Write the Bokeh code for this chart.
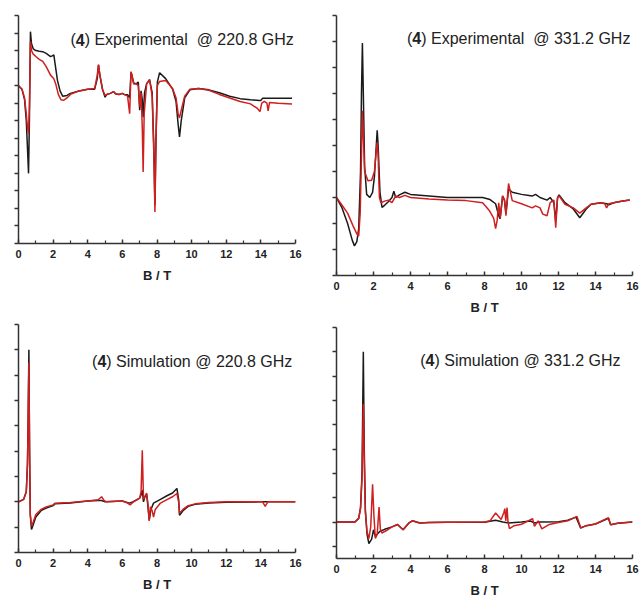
from bokeh.plotting import figure
from bokeh.layouts import row, column
from bokeh.models import Range1d, FixedTicker, Label
from bokeh.embed import file_html
from bokeh.resources import INLINE

# ---------------- data ----------------
# Panel 1: (4) Experimental @ 220.8 GHz
exp220_black_x = [0, 0.2, 0.35, 0.45, 0.52, 0.58, 0.63, 0.69, 0.75, 0.85, 1.0, 1.2, 1.4, 1.6, 1.85, 1.95, 2.04, 2.12,
                  2.25, 2.4, 2.55, 2.8, 3.0, 3.5, 4.0, 4.4, 4.55, 4.62, 4.7, 4.85, 5.0, 5.1, 5.3, 5.5, 5.6, 5.8, 6.0,
                  6.1, 6.3, 6.42, 6.5, 6.55, 6.65, 6.8, 6.92, 7.0, 7.08, 7.15, 7.2, 7.28, 7.4, 7.57, 7.72, 7.82, 7.88,
                  7.94, 8.02, 8.15, 8.5, 8.9, 9.1, 9.22, 9.3, 9.4, 9.6, 9.9, 10.4, 11.0, 11.6, 12.2, 12.8, 13.4, 13.9,
                  14.0, 14.1, 14.3, 15.0, 15.8]
exp220_black_y = [0, -0.1, -0.4, -1.0, -1.8, -2.5, -1.0, 1.54, 1.2, 1.05, 1.0, 0.98, 0.97, 0.92, 0.83, 0.85, 0.88, 0.6,
                  0.15, -0.15, -0.3, -0.28, -0.22, -0.15, -0.1, -0.1, 0.2, 0.59, 0.3, -0.1, -0.33, -0.25, -0.22, -0.17,
                  -0.23, -0.25, -0.22, -0.25, -0.26, -0.35, 0.38, 0.3, 0.08, 0.05, 0.1, -0.7, -0.15, -0.4, -0.9, -0.2,
                  0.05, 0.17, -0.2, -1.8, -3.4, -1.5, 0.1, 0.37, 0.2, -0.1, -0.45, -1.1, -1.46, -1.0, -0.35, -0.12,
                  -0.08, -0.12, -0.2, -0.3, -0.37, -0.4, -0.42, -0.42, -0.36, -0.36, -0.36, -0.36]
exp220_red_x = [0, 0.2, 0.35, 0.45, 0.52, 0.58, 0.63, 0.69, 0.75, 0.85, 1.0, 1.2, 1.4, 1.6, 1.85, 2.04, 2.15, 2.3, 2.45,
                2.6, 2.8, 3.0, 3.5, 4.0, 4.4, 4.55, 4.62, 4.7, 4.85, 5.0, 5.1, 5.3, 5.5, 5.6, 5.8, 6.0, 6.1, 6.3, 6.42,
                6.5, 6.55, 6.65, 6.8, 6.92, 7.0, 7.08, 7.15, 7.2, 7.26, 7.4, 7.57, 7.72, 7.82, 7.88, 7.94, 8.02, 8.15,
                8.5, 8.9, 9.1, 9.22, 9.3, 9.4, 9.6, 9.9, 10.4, 11.0, 11.6, 12.2, 12.8, 13.4, 13.8, 13.95, 14.05, 14.2,
                14.35, 14.42, 14.5, 15.0, 15.8]
exp220_red_y = [0, -0.1, -0.35, -0.8, -1.2, -1.36, -0.6, 1.26, 1.0, 0.9, 0.83, 0.75, 0.69, 0.54, 0.3, 0.2, 0.05, -0.25,
                -0.4, -0.42, -0.35, -0.25, -0.15, -0.1, -0.08, 0.3, 0.6, 0.3, -0.1, -0.28, -0.25, -0.22, -0.17, -0.23,
                -0.25, -0.22, -0.25, -0.3, -0.8, 0.4, 0.3, 0.05, 0.05, 0.0, -0.6, -0.2, -1.2, -2.46, -0.8, 0.05, 0.17,
                -0.3, -2.0, -3.6, -1.6, 0.0, 0.12, 0.15, -0.08, -0.35, -0.8, -0.92, -0.7, -0.3, -0.1, -0.08, -0.13,
                -0.25, -0.35, -0.45, -0.52, -0.65, -0.74, -0.5, -0.45, -0.5, -0.72, -0.48, -0.5, -0.52]

# Panel 2: (4) Experimental @ 331.2 GHz
exp331_black_x = [0, 0.3, 0.6, 0.85, 0.97, 1.1, 1.2, 1.3, 1.35, 1.4, 1.45, 1.52, 1.63, 1.8, 1.95, 2.05, 2.15, 2.2, 2.25,
                  2.35, 2.46, 2.6, 2.8, 3.0, 3.1, 3.2, 3.4, 3.7, 4.0, 5.0, 6.0, 7.0, 7.9, 8.3, 8.6, 8.77, 8.84, 8.98,
                  9.08, 9.16, 9.3, 9.5, 10.0, 10.4, 10.6, 10.76, 11.0, 11.38, 11.55, 11.75, 11.85, 11.95, 12.03, 12.35,
                  12.8, 13.15, 13.5, 13.76, 14.3, 14.6, 14.72, 14.98, 15.4, 15.85]
exp331_black_y = [0, -0.2, -0.5, -0.82, -0.93, -0.85, -0.6, 0.5, 2.0, 2.97, 2.0, 0.6, 0.06, 0.0, 0.1, 0.4, 1.0, 1.29,
                  1.0, 0.1, -0.19, -0.15, -0.08, 0.0, 0.12, 0.0, 0.05, 0.1, 0.06, 0.03, 0.0, 0.0, 0.0, -0.04, -0.12,
                  -0.35, -0.41, 0.03, -0.05, -0.3, 0.16, 0.1, 0.06, 0.04, 0.03, 0.06, 0.0, -0.05, 0.0, -0.1, -0.45,
                  0.0, 0.05, -0.1, -0.22, -0.39, -0.22, -0.13, -0.1, -0.12, -0.14, -0.1, -0.07, -0.05]
exp331_red_x = [0, 0.3, 0.6, 0.9, 1.1, 1.2, 1.28, 1.35, 1.4, 1.45, 1.52, 1.7, 1.9, 2.05, 2.15, 2.2, 2.25, 2.32, 2.4,
                2.6, 2.8, 3.0, 3.2, 3.4, 3.7, 4.0, 5.0, 6.0, 7.0, 7.9, 8.28, 8.5, 8.6, 8.68, 8.77, 8.85, 8.98, 9.08,
                9.16, 9.3, 9.5, 10.0, 10.58, 10.76, 11.0, 11.15, 11.38, 11.55, 11.75, 11.85, 11.95, 12.03, 12.35, 12.8,
                13.15, 13.5, 13.76, 14.3, 14.5, 14.6, 14.72, 14.98, 15.4, 15.85]
exp331_red_y = [0, -0.15, -0.3, -0.55, -0.7, -0.74, -0.3, 0.8, 1.67, 1.2, 0.5, 0.32, 0.33, 0.5, 0.9, 1.06, 0.8, 0.0,
                -0.1, -0.07, -0.05, -0.1, 0.03, 0.0, 0.04, 0.0, -0.03, -0.05, -0.06, -0.1, -0.26, -0.4, -0.6, -0.45,
                -0.1, -0.4, 0.03, -0.05, -0.35, 0.27, -0.06, -0.12, -0.2, -0.16, -0.2, -0.32, -0.35, -0.1, -0.05,
                -0.58, 0.0, 0.03, -0.13, -0.2, -0.3, -0.2, -0.13, -0.1, -0.12, -0.2, -0.12, -0.1, -0.07, -0.05]

# Panel 3: (4) Simulation @ 220.8 GHz
sim220_black_x = [0, 0.3, 0.45, 0.52, 0.56, 0.6, 0.64, 0.68, 0.75, 0.85, 1.0, 1.3, 1.6, 2.0, 2.1, 3.0, 4.0, 4.6, 4.8,
                  5.0, 6.0, 6.4, 6.6, 7.0, 7.1, 7.15, 7.22, 7.3, 7.4, 7.48, 7.55, 7.65, 7.8, 8.2, 8.6, 8.9, 9.15,
                  9.25, 9.3, 9.5, 9.8, 10.2, 11.0, 12.0, 14.0, 16.0]
sim220_black_y = [0, 0.1, 0.4, 1.5, 3.5, 6.0, 2.0, -0.5, -1.09, -0.9, -0.6, -0.35, -0.25, -0.15, -0.08, -0.05, 0.03,
                  0.05, 0.05, 0.0, 0.03, -0.05, 0.0, 0.15, 0.3, 0.46, 0.0, 0.2, 0.3, -0.2, -0.72, -0.3, -0.05, 0.1,
                  0.25, 0.35, 0.53, 0.1, -0.53, -0.35, -0.18, -0.1, -0.05, -0.02, 0.0, 0.0]
sim220_red_x = [0, 0.3, 0.45, 0.52, 0.56, 0.6, 0.64, 0.68, 0.75, 0.85, 1.0, 1.3, 1.6, 2.0, 2.1, 3.0, 4.0, 4.6, 4.8,
                4.95, 5.1, 6.0, 6.3, 6.45, 6.6, 7.0, 7.08, 7.15, 7.22, 7.3, 7.4, 7.48, 7.55, 7.62, 7.72, 7.8, 7.9, 8.2,
                8.6, 8.9, 9.15, 9.25, 9.3, 9.5, 9.8, 10.2, 11.0, 12.0, 14.1, 14.25, 14.4, 16.0]
sim220_red_y = [0, 0.1, 0.4, 1.5, 3.3, 5.5, 2.0, -0.5, -0.96, -0.8, -0.5, -0.3, -0.2, -0.12, -0.06, -0.03, 0.03, 0.08,
                0.2, 0.05, 0.0, 0.03, -0.05, -0.12, -0.02, 0.15, 0.4, 2.04, 0.1, 0.2, 0.35, -0.1, -0.75, -0.2, -0.35,
                -0.6, -0.3, -0.05, 0.1, 0.2, 0.33, 0.0, -0.45, -0.3, -0.15, -0.08, -0.03, 0.0, 0.0, -0.18, 0.0, 0.0]

# Panel 4: (4) Simulation @ 331.2 GHz
sim331_black_x = [0, 1.0, 1.2, 1.3, 1.38, 1.45, 1.5, 1.56, 1.65, 1.75, 1.9, 2.0, 2.1, 2.2, 2.35, 2.6, 3.0, 3.3, 3.6,
                  3.9, 4.1, 4.5, 5.0, 6.0, 8.0, 8.6, 9.0, 9.3, 10.0, 10.5, 10.7, 11.0, 12.0, 12.5, 12.95, 13.2, 13.5,
                  14.0, 14.7, 14.82, 15.2, 16.0]
sim331_black_y = [0, 0.0, 0.15, 0.6, 2.0, 7.0, 3.0, 0.5, -0.5, -0.89, -0.7, -0.32, -0.6, -0.5, -0.38, -0.3, -0.2, -0.1,
                  -0.32, -0.05, 0.05, -0.04, -0.02, -0.01, -0.01, 0.07, 0.0, -0.04, 0.0, 0.04, -0.04, 0.0, 0.01, 0.07,
                  0.2, -0.25, -0.15, -0.08, 0.15, -0.11, -0.05, 0.0]
sim331_red_x = [0, 1.0, 1.2, 1.3, 1.38, 1.45, 1.5, 1.56, 1.65, 1.75, 1.85, 1.95, 2.02, 2.1, 2.2, 2.3, 2.37, 2.45, 2.7,
                3.0, 3.3, 3.6, 3.9, 4.1, 4.5, 5.0, 6.0, 8.0, 8.3, 8.6, 8.9, 9.05, 9.1, 9.15, 9.22, 9.27, 9.35, 9.6,
                10.0, 10.6, 10.7, 10.9, 11.1, 11.5, 12.0, 12.5, 13.0, 13.2, 13.5, 14.0, 14.7, 14.82, 15.2, 16.0]
sim331_red_y = [0, 0.0, 0.15, 0.55, 1.8, 4.86, 2.5, 0.4, -0.4, -0.68, -0.2, 1.55, 0.3, -0.68, -0.5, 0.62, -0.3, -0.45,
                -0.35, -0.2, -0.1, -0.32, -0.05, 0.05, -0.04, -0.02, -0.01, 0.0, 0.05, 0.37, 0.1, 0.4, 0.55, 0.05,
                0.59, 0.0, -0.27, -0.15, -0.09, 0.14, -0.18, 0.05, -0.28, -0.1, -0.02, 0.05, 0.23, -0.23, -0.15, -0.08,
                0.18, -0.11, -0.05, 0.0]

x_ticks = [0, 2, 4, 6, 8, 10, 12, 14, 16]
x_minor_ticks = [1, 3, 5, 7, 9, 11, 13, 15]
y_ticks_p1 = [-4.5, -4.0, -3.5, -3.0, -2.5, -2.0, -1.5, -1.0, -0.5, 0.0, 0.5, 1.0, 1.5, 2.0]
y_ticks_p2 = [-1.5, -1.0, -0.5, 0.0, 0.5, 1.0, 1.5, 2.0, 2.5, 3.0, 3.5]
y_ticks_p3 = [-2, -1, 0, 1, 2, 3, 4, 5, 6, 7]
y_ticks_p4 = [-1, 0, 1, 2, 3, 4, 5, 6, 7, 8]

titles = ["Experimental\u00a0 @ 220.8 GHz", "Experimental\u00a0 @ 331.2 GHz",
          "Simulation @ 220.8 GHz", "Simulation @ 331.2 GHz"]

BLACK = "#1a1a1a"
RED = "#cf1f1f"
FONT = "Liberation Sans"


def make_panel(w, h, b_left, b_right, b_top, b_bottom, y_lo, y_hi, y_ticks,
               bx, by, rx, ry, title, tx, ty):
    p = figure(width=w, height=h, output_backend="svg", toolbar_location=None,
               x_range=Range1d(0, 16), y_range=Range1d(y_lo, y_hi),
               min_border_left=b_left, min_border_right=b_right,
               min_border_top=b_top, min_border_bottom=b_bottom)
    p.outline_line_color = None
    p.xgrid.visible = False
    p.ygrid.visible = False
    p.background_fill_color = "white"
    p.border_fill_color = "white"

    p.line(bx, by, line_color=BLACK, line_width=1.5)
    p.line(rx, ry, line_color=RED, line_width=1.5)

    xa = p.xaxis[0]
    xa.ticker = FixedTicker(ticks=x_ticks, minor_ticks=x_minor_ticks)
    xa.axis_line_color = "#333333"
    xa.axis_line_width = 1.5
    xa.major_tick_line_color = "#333333"
    xa.minor_tick_line_color = "#333333"
    xa.major_tick_line_width = 1.5
    xa.minor_tick_line_width = 1.2
    xa.major_tick_in = 4
    xa.major_tick_out = 0
    xa.minor_tick_in = 3
    xa.minor_tick_out = 0
    xa.major_label_text_font = FONT
    xa.major_label_text_font_style = "bold"
    xa.major_label_text_font_size = "11px"
    xa.major_label_text_color = "#222222"
    xa.major_label_standoff = 6
    xa.axis_label = "B / T"
    xa.axis_label_text_font = FONT
    xa.axis_label_text_font_style = "bold"
    xa.axis_label_text_font_size = "13px"
    xa.axis_label_text_color = "#222222"
    xa.axis_label_standoff = 7

    ya = p.yaxis[0]
    ya.ticker = FixedTicker(ticks=y_ticks, minor_ticks=[])
    ya.axis_line_color = "#333333"
    ya.axis_line_width = 1.5
    ya.major_tick_line_color = "#333333"
    ya.major_tick_line_width = 1.5
    ya.major_tick_in = 0
    ya.major_tick_out = 4
    ya.minor_tick_in = 0
    ya.minor_tick_out = 0
    ya.major_label_overrides = {t: "" for t in y_ticks}
    ya.major_label_standoff = 0

    common = dict(x_units="data", y_units="data", text_font=FONT,
                  text_font_size="16px", text_color="#222222",
                  text_baseline="alphabetic", text_align="left")
    p.add_layout(Label(x=tx, y=ty, text="(", x_offset=0, **common))
    p.add_layout(Label(x=tx, y=ty, text="4", x_offset=5.3,
                       text_font_style="bold", **common))
    p.add_layout(Label(x=tx, y=ty, text=") " + title, x_offset=14.2, **common))
    return p


p1 = make_panel(323, 298, 18, 28, 15, 55, -4.5, 2.0, y_ticks_p1,
                exp220_black_x, exp220_black_y, exp220_red_x, exp220_red_y,
                titles[0], 3.0, 1.31)
p3 = make_panel(323, 302, 18, 24, 26, 48, -2.0, 7.0, y_ticks_p3,
                sim220_black_x, sim220_black_y, sim220_red_x, sim220_red_y,
                titles[2], 4.25, 5.55)
p2 = make_panel(317, 318, 8, 8, 15, 43, -1.5, 3.5, y_ticks_p2,
                exp331_black_x, exp331_black_y, exp331_red_x, exp331_red_y,
                titles[1], 3.81, 3.06)
p4 = make_panel(317, 282, 13, 7, 9, 42, -1.5, 8.0, y_ticks_p4,
                sim331_black_x, sim331_black_y, sim331_red_x, sim331_red_y,
                titles[3], 4.53, 6.65)

layout = row(column(p1, p3), column(p2, p4))
open("out.html", "w").write(file_html(layout, INLINE))
